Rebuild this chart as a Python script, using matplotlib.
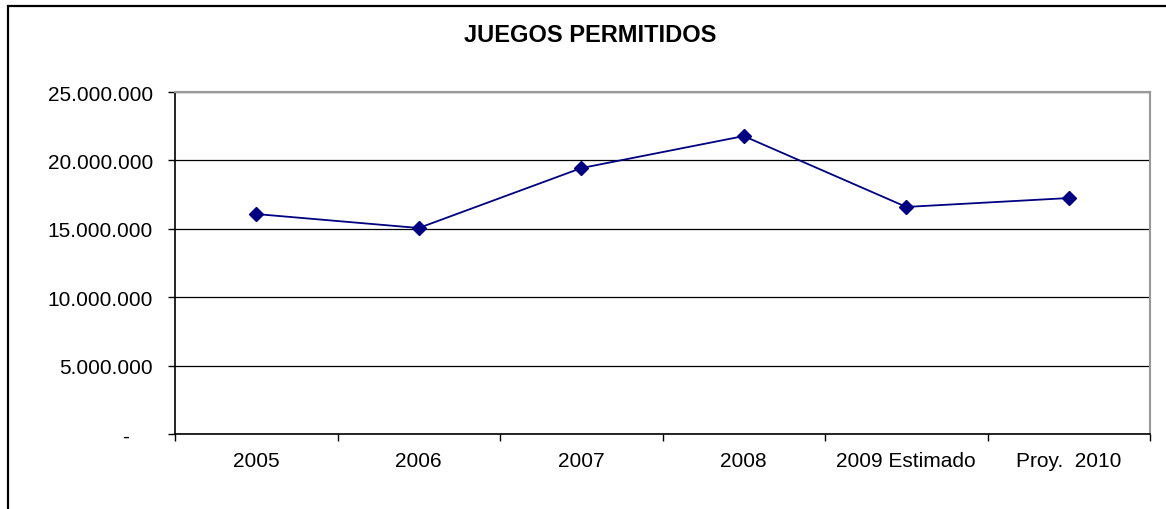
import matplotlib.pyplot as plt
from matplotlib.patches import Rectangle
from matplotlib.ticker import FuncFormatter

plt.rcParams['font.family'] = ['Liberation Sans', 'DejaVu Sans']

# datos
categorias = ['2005', '2006', '2007', '2008', '2009 Estimado', 'Proy.  2010']
juegos = [16080000, 15060000, 19440000, 21780000, 16600000, 17250000]
yticks = [0, 5000000, 10000000, 15000000, 20000000, 25000000]


def fmt_miles(v, pos):
    if v == 0:
        return '-    '  # formato contable: guion corrido a la izquierda
    return '{:,.0f}'.format(v).replace(',', '.')


fig = plt.figure(figsize=(11.66, 5.10), dpi=100)
ax = fig.add_axes([0.1501, 0.147, 0.8362, 0.6706])

x = list(range(len(categorias)))
ax.plot(x, juegos, color='#000080', lw=1.3, marker='D', markersize=7,
        markerfacecolor='#000080', markeredgecolor='#000080', zorder=3)

ax.set_xlim(-0.5, len(categorias) - 0.5)
ax.set_ylim(0, 25000000)
ax.set_yticks(yticks)
ax.yaxis.set_major_formatter(FuncFormatter(fmt_miles))
ax.grid(axis='y', color='black', lw=0.9)
ax.set_axisbelow(True)

ax.set_xticks(x)
ax.set_xticklabels(categorias)
ax.set_xticks([i - 0.5 for i in range(len(categorias) + 1)], minor=True)
ax.tick_params(axis='x', which='major', length=0, pad=12, labelsize=15)
ax.tick_params(axis='x', which='minor', length=5, direction='out', width=1)
ax.tick_params(axis='y', length=5, direction='out', width=1, pad=11, labelsize=15)

for s in ['top', 'right']:
    ax.spines[s].set_color('#999999')
    ax.spines[s].set_linewidth(1.5)
for s in ['left', 'bottom']:
    ax.spines[s].set_color('black')
    ax.spines[s].set_linewidth(1.2)

fig.text(0.506, 0.931, 'JUEGOS PERMITIDOS', ha='center', va='center',
         fontsize=17, fontweight='bold')

# marco exterior del grafico
fig.patches.append(Rectangle((8 / 1166, -0.1), 1.2, 1.1 - 7 / 510,
                             transform=fig.transFigure, fill=False,
                             edgecolor='black', lw=1.6))

fig.savefig('out.png', dpi=100)
